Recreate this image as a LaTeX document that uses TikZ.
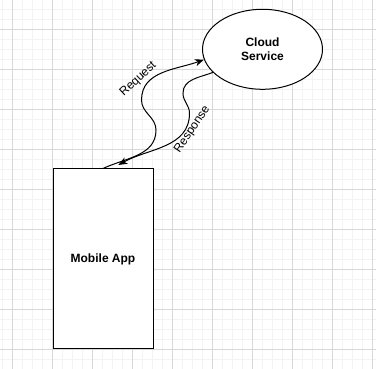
\documentclass[tikz,border=0pt]{standalone}
\usepackage{fontspec}
\setmainfont{Liberation Sans}
\usetikzlibrary{arrows.meta,shapes.geometric}
\definecolor{gridmajor}{HTML}{D8D8D8}
\definecolor{gridminor}{HTML}{F3F3F3}
\begin{document}
\begin{tikzpicture}[x=1pt,y=1pt]
        \tikzstyle{box}=[rectangle, draw, fill=white, line width=1pt, minimum width=100pt, minimum height=180pt, inner sep=0pt, font=\fontsize{12pt}{14pt}\selectfont\bfseries]
        \tikzstyle{blob}=[ellipse, draw, fill=white, line width=1pt, minimum width=120pt, minimum height=80pt, inner sep=0pt, align=center, font=\fontsize{12pt}{14pt}\selectfont\bfseries]
        \tikzstyle{link}=[line width=1pt, -{Stealth[length=9pt,width=7pt,inset=2.5pt]}]
        \tikzstyle{tag}=[font=\fontsize{12pt}{14pt}\selectfont, inner sep=0pt]

            \useasboundingbox (0,0) rectangle (376,369);
            \clip (0,0) rectangle (376,369);

            % background grid
            \draw[gridminor, line width=0.8pt, step=10, shift={(2.7,9.3)}] (-20,-20) grid (390,390);
            \draw[gridmajor, line width=0.8pt, step=40, shift={(12.7,19.3)}] (-40,-40) grid (400,400);

            \node[box](app) at (103,110){Mobile App};
            \node[blob](cloud) at (262.5,319.7){Cloud\\Service};

            \coordinate (r1) at (156,239);
            \coordinate (r2) at (141.5,269);
            \coordinate (s1) at (183,275.7);
            \coordinate (s2) at (189.5,255.7);
            \coordinate (s3) at (118.3,204);

            \draw[link] (app.north) to[out=25,in=-90] (r1) to[out=90,in=-90] (r2) to[out=90,in=200] (cloud.190);
            \draw[link] (cloud.205) to[out=201,in=90] (s1) to[out=-90,in=90] (s2) to[out=-90,in=29] (s3);

            \node[tag, rotate=43](req) at (138.3,289.7){Request};
            \node[tag, rotate=56](resp) at (192.4,239.5){Response};

        \end{tikzpicture}
\end{document}
